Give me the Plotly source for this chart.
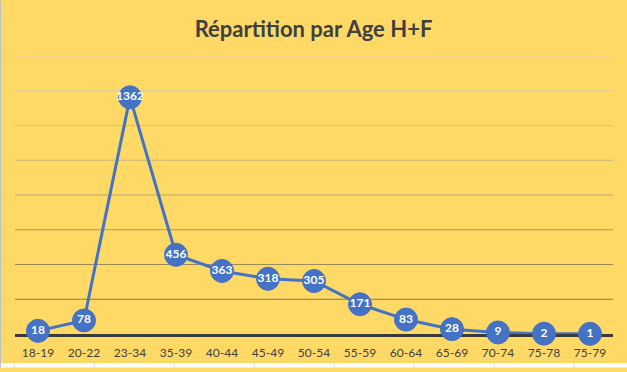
import plotly.graph_objects as go

categories = ["18-19", "20-22", "23-34", "35-39", "40-44", "45-49", "50-54",
              "55-59", "60-64", "65-69", "70-74", "75-78", "75-79"]
values = [18, 78, 1362, 456, 363, 318, 305, 171, 83, 28, 9, 2, 1]
grid_values = [200, 400, 600, 800, 1000, 1200, 1400, 1600]
grid_colors = ["#8A7A4C", "#9A8A58", "#AA9A66", "#B8A972", "#C5B77F", "#D0C38C", "#D8CB98", "#DDD1A2"]

W, H = 627, 372
ml, mr, mt, mb = 15, 14, 56, 34
pw, ph = W - ml - mr, H - mt - mb

def px_x(X):
    return (X - ml) / pw

def px_y(Y):
    return (H - mb - Y) / ph

fig = go.Figure()
fig.add_trace(go.Scatter(
    x=categories, y=values,
    mode="lines+markers+text",
    line=dict(color="#4472C4", width=3),
    marker=dict(size=23, color="#4472C4", line=dict(color="#4472C4", width=1)),
    text=[str(v) for v in values],
    textposition="middle center",
    textfont=dict(family="Lato, Open Sans, sans-serif", size=12, color="white", weight="bold"),
    cliponaxis=False,
    hoverinfo="x+y",
))

shapes = []
for gv, gc in zip(grid_values, grid_colors):
    shapes.append(dict(type="line", xref="paper", yref="y", x0=0, x1=1, y0=gv, y1=gv,
                       line=dict(color=gc, width=1), layer="below"))
# white strip below chart area with sheet cell lines
shapes.append(dict(type="rect", xref="paper", yref="paper", x0=px_x(0), x1=px_x(W),
                   y0=px_y(H), y1=px_y(367.5), fillcolor="white", line=dict(width=0), layer="below"))
for cx in [14, 94, 174, 254, 334, 414, 494, 574]:
    shapes.append(dict(type="line", xref="paper", yref="paper", x0=px_x(cx), x1=px_x(cx),
                       y0=px_y(H), y1=px_y(368), line=dict(color="#D4D4D4", width=1), layer="below"))
shapes.append(dict(type="line", xref="paper", yref="paper", x0=px_x(0.5), x1=px_x(0.5),
                   y0=px_y(H), y1=px_y(0), line=dict(color="#BFBFBF", width=1), layer="below"))

fig.update_layout(
    width=W, height=H,
    margin=dict(l=ml, r=mr, t=mt, b=mb),
    paper_bgcolor="#FFD966",
    plot_bgcolor="#FFD966",
    showlegend=False,
    title=dict(text="<b>Répartition par Age H+F</b>", x=0.5, xanchor="center",
               y=1 - 29 / H, yanchor="middle",
               font=dict(family="Lato, Open Sans, sans-serif", size=22, color="#404040")),
    xaxis=dict(type="category", range=[-0.5, len(categories) - 0.5], showgrid=False,
               showline=True, linecolor="#3A3A3A", linewidth=2.5, ticks="",
               ticklabelstandoff=6,
               tickfont=dict(family="Lato, Open Sans, sans-serif", size=12, color="#404040"),
               layer="below traces", fixedrange=True),
    yaxis=dict(range=[0, 1600], showgrid=False, showticklabels=False, zeroline=False,
               showline=False, fixedrange=True),
    shapes=shapes,
)

fig.write_html("out.html", config={"displayModeBar": False},
               post_script="document.body.style.margin='0';document.body.style.overflow='hidden';")
